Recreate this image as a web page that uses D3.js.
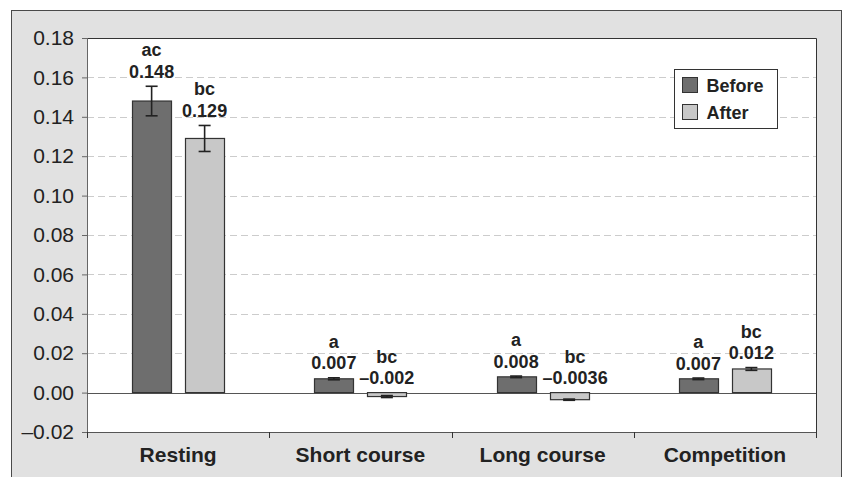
<!DOCTYPE html>
<html>
<head>
<meta charset="utf-8">
<script src="https://cdn.jsdelivr.net/npm/d3@7"></script>
<style>
	body { margin: 0; background: #fff; }
	svg { display: block; font-family: 'Liberation Sans', Arial, sans-serif; }
</style>
</head>
<body>
<div id="svg-wrapper"></div>
<script>
var categories = [ 'Resting', 'Short course', 'Long course', 'Competition' ];
var seriesNames = [ 'Before', 'After' ];

var beforeValues = [ 0.148, 0.007, 0.008, 0.007 ];
var afterValues = [ 0.129, -0.002, -0.0036, 0.012 ];
var beforeErrors = [ 0.0075, 0.0005, 0.0004, 0.0004 ];
var afterErrors = [ 0.0066, 0.0005, 0.0003, 0.0007 ];
var beforeLabels = [ '0.148', '0.007', '0.008', '0.007' ];
var afterLabels = [ '0.129', '\u20130.002', '\u20130.0036', '0.012' ];
var beforeLetters = [ 'ac', 'a', 'a', 'a' ];
var afterLetters = [ 'bc', 'bc', 'bc', 'bc' ];
var yTicks = [ -0.02, 0, 0.02, 0.04, 0.06, 0.08, 0.10, 0.12, 0.14, 0.16, 0.18 ];

var colors = { Before: '#6e6e6e', After: '#c8c8c8' };

var sizes = { width: 846, height: 477 };
var padding = { top: 38, right: 30, bottom: 45, left: 87 };
sizes.cwidth = sizes.width - padding.left - padding.right;
sizes.cheight = sizes.height - padding.top - padding.bottom;

var els = {};
els.svg = d3.select( '#svg-wrapper' ).append( 'svg' )
	.attr( 'width', sizes.width )
	.attr( 'height', sizes.height );

// outer grey frame
els.svg.append( 'rect' )
	.attr( 'x', 11.5 ).attr( 'y', 10.5 )
	.attr( 'width', 830 ).attr( 'height', 480 )
	.style( 'fill', '#e1e1e1' )
	.style( 'stroke', '#4a4a4a' );

els.guts = els.svg.append( 'g' )
	.attr( 'transform', 'translate(' + padding.left + ',' + padding.top + ')' );

els.guts.append( 'rect' )
	.attr( 'width', sizes.cwidth ).attr( 'height', sizes.cheight )
	.style( 'fill', '#fff' );

var scales = {};
scales.x = d3.scaleBand().domain( categories ).range( [ 0, sizes.cwidth ] );
scales.inner = d3.scaleBand().domain( seriesNames ).range( [ 0, 92 ] ).paddingInner( 0.264 );
scales.y = d3.scaleLinear().domain( [ -0.02, 0.18 ] ).range( [ sizes.cheight, 0 ] );

var groupOffset = ( scales.x.bandwidth() - 92 ) / 2;

// dashed grid
els.guts.selectAll( '.grid' )
	.data( yTicks.filter( function ( d ) { return d > 0.001 && d < 0.17; } ) )
	.enter()
	.append( 'line' )
	.attr( 'x1', 0 ).attr( 'x2', sizes.cwidth )
	.attr( 'y1', function ( d ) { return Math.round( scales.y( d ) ) + 0.5; } )
	.attr( 'y2', function ( d ) { return Math.round( scales.y( d ) ) + 0.5; } )
	.style( 'stroke', '#cccccc' )
	.style( 'stroke-dasharray', '7,4' );

// top & right border
els.guts.append( 'path' )
	.attr( 'd', 'M0,0.5H' + ( sizes.cwidth + 0.5 ) + 'V' + sizes.cheight )
	.style( 'fill', 'none' )
	.style( 'stroke', '#333' );

// axes
var fmt = d3.format( '.2f' );
els.yAxis = els.guts.append( 'g' )
	.call( d3.axisLeft( scales.y ).tickValues( yTicks ).tickSize( 5 ).tickPadding( 8 )
		.tickFormat( function ( d ) { return fmt( d ).replace( /[-\u2212]/, '\u2013' ); } ) );
els.yAxis.select( '.domain' ).remove();
els.yAxis.append( 'line' )
	.attr( 'x1', 0.5 ).attr( 'x2', 0.5 ).attr( 'y1', 0 ).attr( 'y2', sizes.cheight )
	.style( 'stroke', '#666' );
els.yAxis.selectAll( '.tick line' ).style( 'stroke', '#666' );
els.yAxis.selectAll( 'text' )
	.style( 'font-size', '21px' )
	.style( 'font-family', "'Liberation Sans', Arial, sans-serif" )
	.style( 'fill', '#222' );

var boundaries = categories.map( function ( c ) { return scales.x( c ); } ).concat( [ sizes.cwidth ] );
els.xAxis = els.guts.append( 'g' ).attr( 'transform', 'translate(0,' + sizes.cheight + ')' );
els.xAxis.append( 'line' )
	.attr( 'x1', 0 ).attr( 'x2', sizes.cwidth ).attr( 'y1', 0.5 ).attr( 'y2', 0.5 )
	.style( 'stroke', '#555' );
els.xAxis.selectAll( '.xtick' )
	.data( boundaries )
	.enter()
	.append( 'line' )
	.attr( 'x1', function ( d ) { return Math.round( d ) + 0.5; } )
	.attr( 'x2', function ( d ) { return Math.round( d ) + 0.5; } )
	.attr( 'y1', 0 ).attr( 'y2', 6 )
	.style( 'stroke', '#333' );
els.xAxis.selectAll( '.cat' )
	.data( categories )
	.enter()
	.append( 'text' )
	.attr( 'x', function ( d ) { return scales.x( d ) + scales.x.bandwidth() / 2; } )
	.attr( 'y', 30 )
	.attr( 'text-anchor', 'middle' )
	.style( 'font-size', '21px' )
	.style( 'font-weight', 'bold' )
	.style( 'fill', '#222' )
	.text( function ( d ) { return d; } );

// zero line
els.guts.append( 'line' )
	.attr( 'x1', 0 ).attr( 'x2', sizes.cwidth )
	.attr( 'y1', Math.round( scales.y( 0 ) ) + 0.5 ).attr( 'y2', Math.round( scales.y( 0 ) ) + 0.5 )
	.style( 'stroke', '#555' );

// bars data
var barData = [];
categories.forEach( function ( c, i ) {
	barData.push( { cat: c, series: 'Before', value: beforeValues[i], err: beforeErrors[i], label: beforeLabels[i], letter: beforeLetters[i] } );
	barData.push( { cat: c, series: 'After', value: afterValues[i], err: afterErrors[i], label: afterLabels[i], letter: afterLetters[i] } );
} );

var barX = function ( d ) { return scales.x( d.cat ) + groupOffset + scales.inner( d.series ); };
var barMid = function ( d ) { return barX( d ) + scales.inner.bandwidth() / 2; };

els.guts.selectAll( '.bar' )
	.data( barData )
	.enter()
	.append( 'rect' )
	.attr( 'x', function ( d ) { return Math.round( barX( d ) ) + 0.5; } )
	.attr( 'width', scales.inner.bandwidth() )
	.attr( 'y', function ( d ) { return scales.y( Math.max( 0, d.value ) ); } )
	.attr( 'height', function ( d ) { return Math.abs( scales.y( d.value ) - scales.y( 0 ) ); } )
	.style( 'fill', function ( d ) { return colors[d.series]; } )
	.style( 'stroke', '#333' )
	.style( 'stroke-width', 1.2 );

// error bars
var eb = els.guts.selectAll( '.err' )
	.data( barData )
	.enter()
	.append( 'g' );
eb.append( 'line' )
	.attr( 'x1', barMid ).attr( 'x2', barMid )
	.attr( 'y1', function ( d ) { return scales.y( d.value + d.err ); } )
	.attr( 'y2', function ( d ) { return scales.y( d.value - d.err ); } );
eb.append( 'line' )
	.attr( 'x1', function ( d ) { return barMid( d ) - 6; } )
	.attr( 'x2', function ( d ) { return barMid( d ) + 6; } )
	.attr( 'y1', function ( d ) { return scales.y( d.value + d.err ); } )
	.attr( 'y2', function ( d ) { return scales.y( d.value + d.err ); } );
eb.append( 'line' )
	.attr( 'x1', function ( d ) { return barMid( d ) - 6; } )
	.attr( 'x2', function ( d ) { return barMid( d ) + 6; } )
	.attr( 'y1', function ( d ) { return scales.y( d.value - d.err ); } )
	.attr( 'y2', function ( d ) { return scales.y( d.value - d.err ); } );
eb.selectAll( 'line' ).style( 'stroke', '#222' ).style( 'stroke-width', 1.6 );

// value labels; a long negative label is nudged right so it clears its neighbour
var labelTop = function ( d ) { return scales.y( Math.max( 0, d.value + d.err ) ) - 8.5; };
var labelX = function ( d ) { return barMid( d ) + ( d.label.length > 6 ? 6 : 0 ); };
els.guts.selectAll( '.val' )
	.data( barData )
	.enter()
	.append( 'text' )
	.attr( 'x', labelX )
	.attr( 'y', labelTop )
	.attr( 'text-anchor', 'middle' )
	.style( 'font-size', '18px' )
	.style( 'font-weight', 'bold' )
	.style( 'fill', '#222' )
	.text( function ( d ) { return d.label; } );
els.guts.selectAll( '.letter' )
	.data( barData )
	.enter()
	.append( 'text' )
	.attr( 'x', labelX )
	.attr( 'y', function ( d ) { return labelTop( d ) - 21.5; } )
	.attr( 'text-anchor', 'middle' )
	.style( 'font-size', '18px' )
	.style( 'font-weight', 'bold' )
	.style( 'fill', '#222' )
	.text( function ( d ) { return d.letter; } );

// legend
var legend = els.svg.append( 'g' ).attr( 'transform', 'translate(674.5,69.5)' );
legend.append( 'rect' )
	.attr( 'width', 103 ).attr( 'height', 59 )
	.style( 'fill', '#fff' ).style( 'stroke', '#333' );
var li = legend.selectAll( '.li' )
	.data( seriesNames )
	.enter()
	.append( 'g' )
	.attr( 'transform', function ( d, i ) { return 'translate(8,' + ( 8 + i * 27 ) + ')'; } );
li.append( 'rect' )
	.attr( 'width', 15 ).attr( 'height', 15 )
	.style( 'fill', function ( d ) { return colors[d]; } )
	.style( 'stroke', '#333' );
li.append( 'text' )
	.attr( 'x', 24 ).attr( 'y', 14.5 )
	.style( 'font-size', '18px' )
	.style( 'font-weight', 'bold' )
	.style( 'fill', '#222' )
	.text( function ( d ) { return d; } );
</script>
</body>
</html>
